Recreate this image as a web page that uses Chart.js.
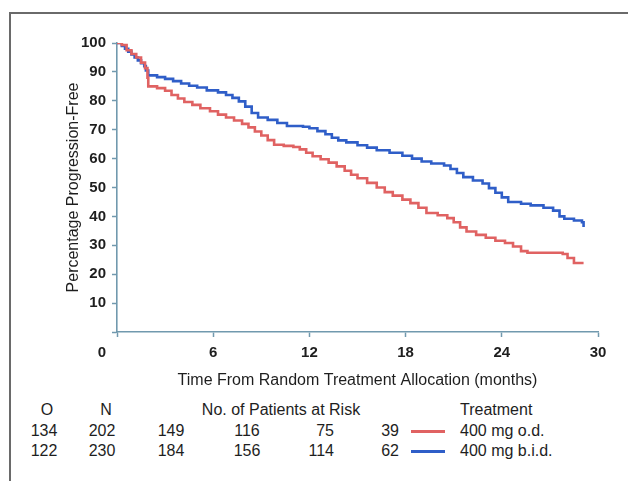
<!DOCTYPE html>
<html>
<head>
<meta charset="utf-8">
<script src="https://cdn.jsdelivr.net/npm/chart.js@4"></script>
<style>
  html, body { margin: 0; padding: 0; background: #fff; }
  body { width: 628px; height: 481px; position: relative; overflow: hidden; font-family: "Liberation Sans", Arial, sans-serif; color: #1e1e1e; }
  #frame { position: absolute; left: 9px; top: 12px; width: 640px; height: 500px; border-left: 2px solid #6a6a6a; border-top: 2px solid #6a6a6a; }
  #wrap { position: absolute; left: 0; top: 0; width: 628px; height: 400px; }
  .t { position: absolute; font-size: 16px; line-height: 18px; white-space: nowrap; }
  .c { transform: translateX(-50%); }
  .ln { position: absolute; height: 3px; width: 34px; }
</style>
</head>
<body>
<div id="frame"></div>
<div id="wrap"><canvas id="c" width="628" height="400"></canvas></div>

<script>
// ---- Data ----
const xTicks = [0, 6, 12, 18, 24, 30];
const yTicks = [10, 20, 30, 40, 50, 60, 70, 80, 90, 100];

const seriesNames = ["400 mg o.d.", "400 mg b.i.d."];

// 400 mg o.d. (red) — Kaplan-Meier steps: time (months), percentage progression-free
const odTime = [0, 0.3, 0.6, 0.9, 1.2, 1.5, 1.75, 1.9, 1.95, 2.5, 3.0, 3.4, 3.8, 4.2, 4.7, 5.2, 5.8, 6.3, 6.8, 7.3, 7.8, 8.2, 8.6, 9.0, 9.4, 9.8, 10.4, 11.0, 11.4, 11.8, 12.2, 12.7, 13.2, 13.7, 14.2, 14.6, 15.0, 15.6, 16.2, 16.7, 17.2, 17.8, 18.3, 18.8, 19.3, 20.0, 20.6, 21.0, 21.4, 21.8, 22.4, 23.0, 23.6, 24.2, 24.7, 25.2, 25.6, 27.8, 28.1, 28.5, 29.1];
const odValue = [100, 99.3, 97.5, 96.2, 95.0, 93.2, 91.3, 88.0, 85.0, 84.4, 83.5, 82.0, 80.8, 79.6, 78.6, 77.4, 76.4, 75.2, 74.2, 73.2, 72.0, 70.8, 69.4, 68.0, 66.4, 64.8, 64.4, 64.0, 63.2, 62.0, 60.8, 59.8, 58.6, 57.3, 55.8, 54.4, 53.2, 51.6, 50.0, 48.4, 47.2, 45.8, 44.6, 43.0, 41.2, 40.4, 39.4, 38.0, 36.2, 34.8, 33.6, 32.6, 31.6, 30.8, 29.6, 28.0, 27.4, 27.0, 25.6, 23.9, 23.9];

// 400 mg b.i.d. (blue)
const bidTime = [0, 0.3, 0.5, 0.7, 0.9, 1.1, 1.3, 1.5, 1.7, 1.8, 1.95, 2.5, 3.0, 3.5, 4.0, 4.5, 5.0, 5.6, 6.3, 6.8, 7.2, 7.6, 8.0, 8.4, 8.8, 9.4, 10.0, 10.6, 11.6, 12.0, 12.5, 13.0, 13.4, 13.8, 14.3, 15.0, 15.6, 16.2, 17.0, 17.8, 18.4, 19.0, 19.6, 20.4, 20.8, 21.2, 21.6, 22.2, 22.8, 23.2, 23.6, 24.0, 24.4, 25.2, 25.8, 26.6, 27.2, 27.6, 27.9, 28.5, 29.0, 29.1];
const bidValue = [100, 99, 98, 97, 96, 95, 94, 93, 92, 90.5, 88.8, 88.2, 87.6, 86.8, 86.0, 85.2, 84.6, 83.6, 82.9, 82.0, 81.0, 79.8, 78.0, 75.8, 74.2, 73.4, 72.3, 71.3, 71.0, 70.5, 69.5, 68.4, 67.2, 66.3, 65.6, 64.6, 63.8, 62.9, 62.0, 61.0, 60.0, 59.0, 58.3, 57.6, 56.4, 55.0, 53.6, 52.4, 51.4, 49.8, 48.2, 46.6, 45.0, 44.4, 43.8, 43.0, 42.0, 40.0, 39.2, 38.6, 38.0, 36.3];

// Risk table
const riskHeader = ["O", "N", "No. of Patients at Risk", "Treatment"];
const riskO = [134, 122];
const riskN = [202, 230];
const riskAt6 = [149, 184];
const riskAt12 = [116, 156];
const riskAt18 = [75, 114];
const riskAt24 = [39, 62];

const colors = ["#e06262", "#2f5ec8"];
const axisColor = "#7199ae";
const textColor = "#1e1e1e";
const FAM = '"Liberation Sans", Arial, sans-serif';

// ---- Build chart ----
function pts(t, v) { return t.map((x, i) => ({ x: x, y: v[i] })); }

const originLabel = {
  id: 'originLabel',
  afterDraw(chart) {
    const xs = chart.scales.x, ys = chart.scales.y;
    const ctx = chart.ctx;
    ctx.save();
    ctx.font = 'bold 15px ' + FAM;
    ctx.fillStyle = textColor;
    ctx.textAlign = 'center';
    ctx.textBaseline = 'middle';
    ctx.fillText(String(xTicks[0]), xs.getPixelForValue(xTicks[0]) - 15, ys.getPixelForValue(0) + 21);
    ctx.restore();
  }
};

new Chart(document.getElementById('c'), {
  type: 'line',
  data: {
    datasets: [
      { label: seriesNames[0], data: pts(odTime, odValue), borderColor: colors[0], borderWidth: 2.6, pointRadius: 0, stepped: true, fill: false },
      { label: seriesNames[1], data: pts(bidTime, bidValue), borderColor: colors[1], borderWidth: 2.6, pointRadius: 0, stepped: true, fill: false }
    ]
  },
  options: {
    responsive: false,
    animation: false,
    events: [],
    layout: { padding: { left: 0, top: 43, right: 30, bottom: 0 } },
    plugins: { legend: { display: false }, tooltip: { enabled: false } },
    scales: {
      x: {
        type: 'linear', min: 0, max: 30,
        afterBuildTicks(s) { s.ticks = xTicks.map(v => ({ value: v })); },
        afterFit(s) { s.height = 68; },
        grid: { drawOnChartArea: false, drawTicks: true, tickLength: 5, tickColor: axisColor, tickWidth: 1.5 },
        border: { color: axisColor, width: 1.6 },
        ticks: { color: textColor, padding: 7, font: { family: FAM, size: 15, weight: 'bold' }, maxRotation: 0,
                 callback: (v) => (v === 0 ? '' : String(v)) },
        title: { display: true, text: 'Time From Random Treatment Allocation (months)', color: textColor,
                 font: { family: FAM, size: 16 }, padding: { top: 0, bottom: 10 } }
      },
      y: {
        type: 'linear', min: 0, max: 100,
        afterBuildTicks(s) { s.ticks = [0].concat(yTicks).map(v => ({ value: v })); },
        afterFit(s) { s.width = 117; },
        grid: { drawOnChartArea: false, drawTicks: true, tickLength: 5, tickColor: axisColor, tickWidth: 1.5 },
        border: { color: axisColor, width: 1.6 },
        ticks: { color: textColor, padding: 6, font: { family: FAM, size: 15, weight: 'bold' },
                 callback: (v) => (v === 0 ? '' : String(v)) },
        title: { display: true, text: 'Percentage Progression-Free', color: textColor,
                 font: { family: FAM, size: 16 }, padding: { top: 64, bottom: 0 } }
      }
    }
  },
  plugins: [originLabel]
});

// ---- Risk table (HTML text) ----
function addText(txt, x, y, center) {
  const d = document.createElement('div');
  d.className = 't' + (center ? ' c' : '');
  d.textContent = txt;
  d.style.left = x + 'px';
  d.style.top = (y - 9) + 'px';
  document.body.appendChild(d);
  return d;
}
function addRight(txt, xr, y) {
  const d = document.createElement('div');
  d.className = 't';
  d.textContent = txt;
  d.style.right = (628 - xr) + 'px';
  d.style.top = (y - 9) + 'px';
  document.body.appendChild(d);
}
const hy = 410, rowY = [431, 451];
addText(riskHeader[0], 47, hy, true);
addText(riskHeader[1], 106, hy, true);
addText(riskHeader[2], 281, hy, true);
addText(riskHeader[3], 460, hy, false);
for (let i = 0; i < 2; i++) {
  const y = rowY[i];
  addText(String(riskO[i]), 44, y, true);
  addText(String(riskN[i]), 102, y, true);
  addText(String(riskAt6[i]), 171, y, true);
  addText(String(riskAt12[i]), 247, y, true);
  addRight(String(riskAt18[i]), 334, y);
  addRight(String(riskAt24[i]), 399, y);
  const l = document.createElement('div');
  l.className = 'ln';
  l.style.left = '411px';
  l.style.top = (y - 1) + 'px';
  l.style.background = colors[i];
  document.body.appendChild(l);
  addText(seriesNames[i], 460, y, false);
}
</script>
</body>
</html>
